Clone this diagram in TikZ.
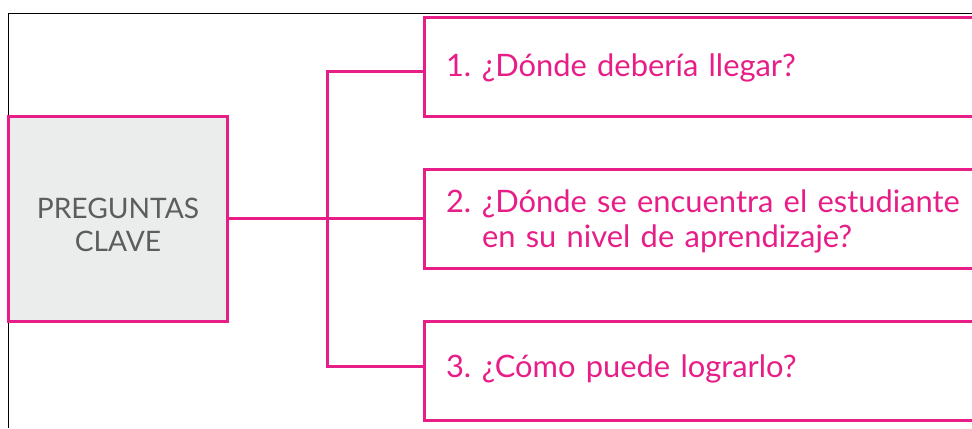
\documentclass[tikz,border=0pt]{standalone}
\usepackage{fontspec}
\setmainfont{Lato}[WordSpace=0.8]
\definecolor{pk}{RGB}{231,30,135}
\definecolor{gb}{RGB}{235,236,236}
\definecolor{gt}{RGB}{92,93,95}
\begin{document}
\begin{tikzpicture}[x=1bp,y=-1bp,
  pinkline/.style={draw=pk,line width=3bp,line join=miter},
  qbox/.style={pinkline,rectangle,fill=white,outer sep=0pt,minimum width=566bp,minimum height=99bp,
    text width=522bp,inner xsep=22bp,inner ysep=0pt,align=left,text=pk,
    font=\fontsize{31}{36}\selectfont},
  keybox/.style={pinkline,rectangle,fill=gb,outer sep=0pt,minimum width=218bp,minimum height=205bp,
    inner sep=0pt,align=center,text=gt,font=\fontsize{28.3}{34}\selectfont},
  frameline/.style={draw=black,line width=1.6bp}]
\clip (0,0) rectangle (972,428);
\fill[white] (0,0) rectangle (972,428);
\draw[frameline] (972,13.5) -- (8.5,13.5) -- (8.5,428);
\node[keybox] (clave) at (118,218.5) {\rule{0pt}{33.2bp}PREGUNTAS\\CLAVE};
\node[qbox] (b1) at (707,66.5) {\begin{tabular}{@{}p{36bp}@{}l@{}}\rule{0pt}{30.8bp}1. & ¿Dónde debería llegar?\end{tabular}};
\node[qbox] (b2) at (707,218.5) {\begin{tabular}{@{}p{36bp}@{}l@{}}\rule{0pt}{33.8bp}2. & ¿Dónde se encuentra el estudiante\\ & en su nivel de aprendizaje?\end{tabular}};
\node[qbox] (b3) at (707,370.5) {\begin{tabular}{@{}p{36bp}@{}l@{}}3. & ¿Cómo puede lograrlo?\end{tabular}};
\coordinate (j) at (327.5,218.5);
\draw[pinkline] (clave.east) -- (j);
\draw[pinkline] (j) -- (b2.west);
\draw[pinkline] ([yshift=-5bp]b1.west) -| (j) |- ([yshift=4.5bp]b3.west);
\end{tikzpicture}
\end{document}
